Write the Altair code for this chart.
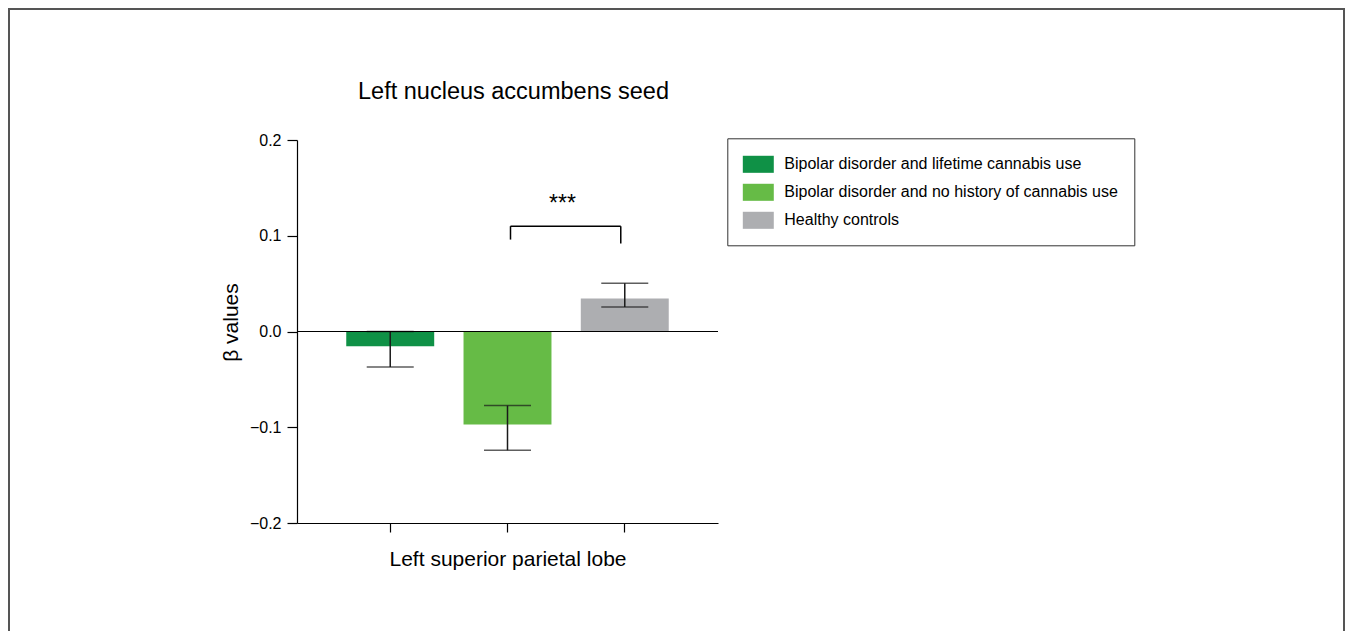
import altair as alt
import pandas as pd

# ---- data ----
groups = [
    "Bipolar disorder and lifetime cannabis use",
    "Bipolar disorder and no history of cannabis use",
    "Healthy controls",
]
means = [-0.0154, -0.097, 0.0345]
err_lo = [-0.037, -0.124, 0.0255]
err_hi = [0.0, -0.0774, 0.0505]
colors = ["#0f9146", "#66bb46", "#adaeb1"]
y_ticks = [-0.2, -0.1, 0.0, 0.1, 0.2]

# significance bracket between group 2 and group 3
bracket_from = [groups[1]]
bracket_to = [groups[2]]
bracket_top = [0.110]
bracket_left_foot = [0.096]
bracket_right_foot = [0.092]
star_text = ["***"]
star_y = [0.126]

FONT = "Liberation Sans"

df = pd.DataFrame({"group": groups, "mean": means, "lo": err_lo, "hi": err_hi})
br = pd.DataFrame({
    "group": bracket_from, "group_end": bracket_to, "top": bracket_top,
    "lfoot": bracket_left_foot, "rfoot": bracket_right_foot,
})
br_r = pd.DataFrame({"group": bracket_to, "top": bracket_top, "rfoot": bracket_right_foot})
stars = pd.DataFrame({"group": bracket_from, "txt": star_text, "y": star_y})
frame_df = pd.DataFrame({"k": [0]})

xscale = alt.Scale(domain=groups, paddingInner=0.25, paddingOuter=0.42)
yscale = alt.Scale(domain=[-0.2, 0.2], nice=False, zero=False)

xax = alt.Axis(labels=False, tickSize=9, tickColor="black", domainColor="black",
               tickWidth=1.2, domainWidth=1.2, grid=False,
               title="Left superior parietal lobe", titleFontSize=21,
               titleFontWeight="normal", titleFont=FONT, titleColor="black",
               titlePadding=16)
yax = alt.Axis(values=y_ticks, format=".1f", tickSize=10, tickColor="black",
               domainColor="black", tickWidth=1.2, domainWidth=1.2, grid=False,
               labelFontSize=16, labelFont=FONT, labelColor="black", labelPadding=6,
               title="β values", titleFontSize=21, titleFontWeight="normal",
               titleFont=FONT, titleColor="black", titlePadding=8, titleY=182)

X = lambda: alt.X("group:N", scale=xscale, sort=groups, axis=xax)

legend = alt.Legend(
    title=None, orient="none", legendX=430.3, legendY=-1.7, padding=16,
    strokeColor="#333333", fillColor="white",
    symbolType="M-1.6,-0.88H1.6V0.88H-1.6Z", symbolSize=375, symbolStrokeWidth=0,
    symbolOffset=5,
    labelFontSize=16, labelFont=FONT, labelColor="black", labelOffset=16,
    rowPadding=9, labelLimit=500,
)

bars = alt.Chart(df).mark_bar().encode(
    x=X(),
    y=alt.Y("mean:Q", scale=yscale, axis=yax),
    color=alt.Color("group:N", scale=alt.Scale(domain=groups, range=colors),
                    sort=groups, legend=legend),
)

zero = alt.Chart(frame_df).mark_rule(color="black", strokeWidth=1.2).encode(
    y=alt.datum(0, scale=yscale, axis=yax)
)

err_rule = alt.Chart(df).mark_rule(color="#1a1a1a", strokeWidth=1.5).encode(
    x=X(), y=alt.Y("lo:Q", scale=yscale, axis=yax), y2="hi:Q"
)
cap_lo = alt.Chart(df).mark_tick(color="#1a1a1a", size=47, thickness=1.5).encode(
    x=X(), y=alt.Y("lo:Q", scale=yscale, axis=yax)
)
cap_hi = alt.Chart(df).mark_tick(color="#1a1a1a", size=47, thickness=1.5).encode(
    x=X(), y=alt.Y("hi:Q", scale=yscale, axis=yax)
)

b_left = alt.Chart(br).mark_rule(color="black", strokeWidth=1.5, xOffset=3).encode(
    x=X(), y=alt.Y("lfoot:Q", scale=yscale, axis=yax), y2="top:Q"
)
b_right = alt.Chart(br_r).mark_rule(color="black", strokeWidth=1.5, xOffset=-4).encode(
    x=X(), y=alt.Y("rfoot:Q", scale=yscale, axis=yax), y2="top:Q"
)
b_top = alt.Chart(br).mark_rule(color="black", strokeWidth=1.5, xOffset=3, x2Offset=-4).encode(
    x=X(), x2="group_end:N", y=alt.Y("top:Q", scale=yscale, axis=yax)
)
star = alt.Chart(stars).mark_text(fontSize=23, font=FONT, color="black", dx=55,
                                  baseline="alphabetic").encode(
    x=X(), y=alt.Y("y:Q", scale=yscale, axis=yax), text="txt:N"
)

frame = alt.Chart(frame_df).mark_rect(filled=False, stroke="#555555", strokeWidth=2).encode(
    x=alt.value(-288), x2=alt.value(1047), y=alt.value(-131), y2=alt.value(700)
)

chart = alt.layer(
    frame, bars, err_rule, cap_lo, cap_hi, zero, b_left, b_right, b_top, star
).properties(
    width=421, height=383,
    autosize=alt.AutoSizeParams(type="none"),
    padding={"left": 289, "top": 132, "right": 627, "bottom": 108},
    title=alt.TitleParams("Left nucleus accumbens seed", fontSize=23.5, font=FONT,
                          fontWeight="normal", color="black", anchor="middle",
                          frame="group", baseline="alphabetic", offset=0, dx=6, dy=114),
).configure(background="white", view=alt.ViewConfig(stroke=None))

chart.save("out.html", embed_options={"renderer": "svg", "actions": False})
